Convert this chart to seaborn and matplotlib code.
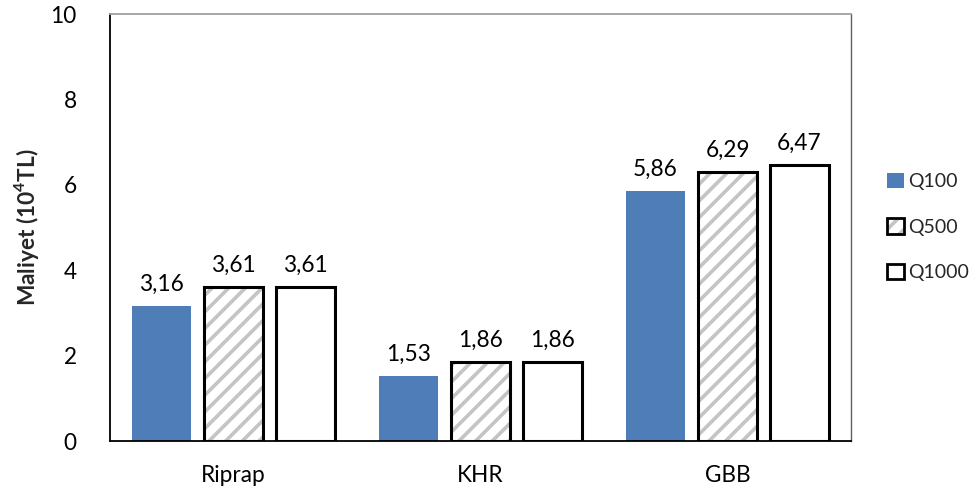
import matplotlib
matplotlib.use("Agg")
import matplotlib.pyplot as plt
from matplotlib.patches import Rectangle, Patch
from matplotlib.legend_handler import HandlerTuple
import seaborn as sns
import pandas as pd

categories = ["Riprap", "KHR", "GBB"]
series_names = ["Q100", "Q500", "Q1000"]
q100 = [3.16, 1.53, 5.86]
q500 = [3.61, 1.86, 6.29]
q1000 = [3.61, 1.86, 6.47]
yticks = [0, 2, 4, 6, 8, 10]

sns.set_theme(style="white")
plt.rcParams["font.family"] = ["Lato", "DejaVu Sans"]
plt.rcParams["mathtext.fontset"] = "custom"
plt.rcParams["mathtext.rm"] = "Lato"
plt.rcParams["mathtext.bf"] = "Lato:bold"
plt.rcParams["hatch.linewidth"] = 2.6

FS = 16.3

rows = []
for name, vals in zip(series_names, [q100, q500, q1000]):
    for c, v in zip(categories, vals):
        rows.append({"Kategori": c, "Senaryo": name, "Maliyet": v})
df = pd.DataFrame(rows)

fig = plt.figure(figsize=(9.8, 4.97), dpi=100)
ax = fig.add_axes([110/980, 1 - 441/497, (851-110)/980, (441-14)/497])

palette = {"Q100": "#4f7db8", "Q500": "#ffffff", "Q1000": "#ffffff"}
sns.barplot(data=df, x="Kategori", y="Maliyet", hue="Senaryo", order=categories,
            hue_order=series_names, palette=palette, width=0.875, gap=0.19,
            legend=False, ax=ax, saturation=1, linewidth=0)

blue_c, hatch_c, white_c = ax.containers
for p in blue_c.patches:
    p.set_edgecolor("none")
for p in hatch_c.patches:
    p.set_facecolor("white")
    p.set_edgecolor("#c4c4c4")
    p.set_hatch("//")
    p.set_linewidth(0)
for cont in (hatch_c, white_c):
    for p in cont.patches:
        ax.add_patch(Rectangle(p.get_xy(), p.get_width(), p.get_height(),
                               fill=False, edgecolor="black", linewidth=2.2, zorder=3))

for cont, vals in zip(ax.containers, [q100, q500, q1000]):
    ax.bar_label(cont, labels=[f"{v:.2f}".replace(".", ",") for v in vals],
                 padding=8, fontsize=FS, color="black")

ax.set_ylim(0, 10)
ax.set_yticks(yticks)
ax.set_yticklabels([str(t) for t in yticks], fontsize=FS)
ax.tick_params(axis="both", length=0, labelsize=FS, colors="black")
ax.tick_params(axis="y", pad=24)
ax.tick_params(axis="x", pad=17)
ax.set_xlabel("")
ax.set_ylabel(r"Maliyet (10$^{\mathbf{4}}$TL)", fontsize=FS, fontweight="bold",
              labelpad=7)

for s in ["left", "bottom"]:
    ax.spines[s].set_color("black")
    ax.spines[s].set_linewidth(1.3)
ax.spines["top"].set_color("#a0a0a0")
ax.spines["top"].set_linewidth(1.3)
ax.spines["right"].set_color("#606060")
ax.spines["right"].set_linewidth(1.0)

handles = [
    Patch(facecolor="#4f7db8", edgecolor="none"),
    (Patch(facecolor="white", edgecolor="#c4c4c4", hatch="//", linewidth=0),
     Patch(fill=False, edgecolor="black", linewidth=2.0)),
    Patch(facecolor="white", edgecolor="black", linewidth=2.0),
]
leg = fig.legend(handles, series_names, loc="center left", bbox_to_anchor=(887/980, 1 - 227/497),
                 frameon=False, fontsize=14, handlelength=0.85, handleheight=0.85,
                 handletextpad=0.25, labelspacing=1.45, borderpad=0, borderaxespad=0,
                 handler_map={tuple: HandlerTuple(ndivide=1, pad=0)})

fig.savefig("out.png", dpi=100)
